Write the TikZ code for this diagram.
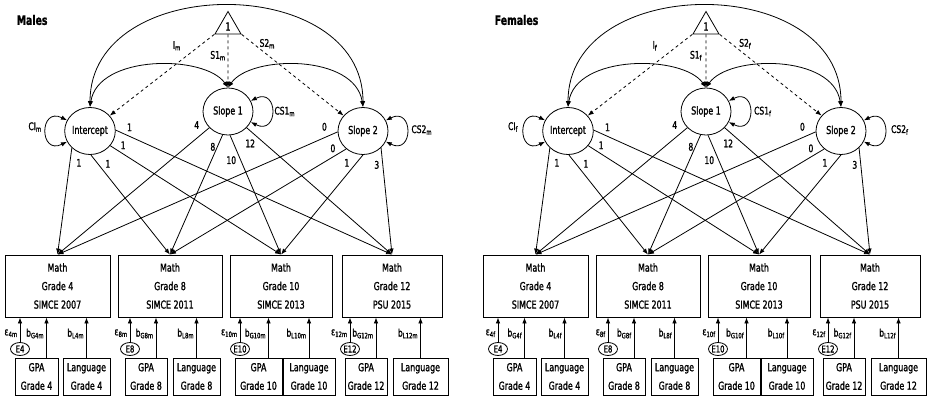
\documentclass[tikz,border=0pt]{standalone}
\usepackage{fontspec}
\setmainfont{DejaVu Sans}[FakeStretch=0.72,FakeBold=1.3]
\usetikzlibrary{shapes.geometric,arrows.meta}

\tikzset{
  latent/.style={ellipse,draw,minimum width=50pt,minimum height=47pt,inner sep=0pt},
  measure/.style={rectangle,draw,align=center,inner sep=0pt},
  errvar/.style={ellipse,draw,minimum width=19pt,minimum height=13pt,inner sep=0pt,font=\fontsize{9.5}{9.5}\selectfont},
  coef/.style={inner sep=0pt,font=\fontsize{10.5}{10.5}\selectfont},
}

\begin{document}
\begin{tikzpicture}[>={Latex[length=6pt,width=4.5pt]},x=1pt,y=-1pt,line width=0.8pt,font=\fontsize{11}{18.5}\selectfont]
\useasboundingbox (0,0) rectangle (928,398);
\foreach \g/\dx/\title in {m/0/Males,f/478/Females}
{
  \begin{scope}[xshift=\dx pt]
    \node[anchor=west,font=\bfseries\fontsize{13}{13}\selectfont] (title\g) at (13,20) {\title};
    \node[regular polygon,regular polygon sides=3,draw,minimum size=30pt,inner sep=0pt] (one\g) at (228,26.5) {1};
    \node[latent] (inter\g) at (90,131) {Intercept};
    \node[latent] (slopea\g) at (228,111.5) {Slope 1};
    \node[latent] (slopeb\g) at (363,131) {Slope 2};
    \foreach \gr/\cx/\w/\yr/\test in {4/57.5/105/2007/SIMCE,8/170/104/2011/SIMCE,10/281/102/2013/SIMCE,12/392/100/2015/PSU}
    {
      \node[measure,minimum width=\w pt,minimum height=62pt] (math\gr\g) at (\cx,286) {Math\\Grade \gr\\\test\ \yr};
    }
    % means of the growth factors
    \draw[->,dashed] (one\g.corner 2) -- (inter\g) node[coef,pos=0.3,shift={(-6,-13)}] {I\textsubscript{\g}};
    \draw[->,dashed] (one\g) -- (slopea\g) node[coef,pos=0.4,shift={(-10,0)}] {S1\textsubscript{\g}};
    \draw[->,dashed] (one\g.corner 3) -- (slopeb\g) node[coef,pos=0.3,shift={(-5,-15)}] {S2\textsubscript{\g}};
    % covariances
    \draw[<->] (inter\g.north) .. controls +(0,-135) and +(0,-135) .. (slopeb\g.north);
    \draw[<->] (inter\g.north) .. controls +(8,-53) and +(-23,-33) .. (slopea\g.north);
    \draw[<->] (slopea\g.north) .. controls +(23,-33) and +(-8,-53) .. (slopeb\g.north);
    \draw[<->] (inter\g.155) .. controls +(-28,-14) and +(-28,14) .. (inter\g.205) node[coef,pos=0.5,shift={(-11,-4)}] {CI\textsubscript{\g}};
    \draw[<->] (slopea\g.25) .. controls +(28,-14) and +(28,14) .. (slopea\g.335) node[coef,pos=0.5,shift={(13,0)}] {CS1\textsubscript{\g}};
    \draw[<->] (slopeb\g.25) .. controls +(28,-14) and +(28,14) .. (slopeb\g.335) node[coef,pos=0.5,shift={(15,-1)}] {CS2\textsubscript{\g}};
    % loadings
    \foreach \src/\a/\gr/\p/\sx/\sy/\lab in {inter/223/4/0.14/9/0/1,inter/272/8/0.09/10/0/1,inter/324/10/0.07/1/-8/1,inter/2/12/0.05/0/-9/1,
      slopea/221/4/0.05/-5/-9/4,slopea/257/8/0.1/-4.5/0/8,slopea/275/10/0.2/-9/1/10,slopea/319/12/0.1/-11/3/12,
      slopeb/182/4/0.04/-2/-10/0,slopeb/227/8/0.07/-1/-8/0,slopeb/270/10/0.1/-8/-2/1,slopeb/317/12/0.16/-6/0/3}
    {
      \draw[->] (\src\g.\a) -- (math\gr\g.north) node[coef,pos=\p,shift={(\sx,\sy)}] {\lab};
    }
    % covariates and residuals
    \foreach \gr/\ex/\gx/\gw/\lx/\lw in {4/20/36.5/43/86.5/47,8/130/146/42/196.5/47,10/240/258.5/47/309/52,12/350/366/42/420.5/55}
    {
      \node[errvar] (err\gr\g) at (\ex,349) {E\gr};
      \node[measure,minimum width=\gw pt,minimum height=37pt] (gpa\gr\g) at (\gx,376.5) {GPA\\Grade \gr};
      \node[measure,minimum width=\lw pt,minimum height=37pt] (lang\gr\g) at (\lx,376.5) {Language\\Grade \gr};
      \draw[->] (err\gr\g) -- (err\gr\g |- math\gr\g.south) node[coef,pos=0.36,left=2pt] {ε\textsubscript{\gr\g}};
      \draw[->] ([xshift=10pt]gpa\gr\g.north) -- ([xshift=10pt]gpa\gr\g.north |- math\gr\g.south) node[coef,pos=0.6,left=2pt] {b\textsubscript{G\gr\g}};
      \draw[->] (lang\gr\g.north) -- (lang\gr\g.north |- math\gr\g.south) node[coef,pos=0.6,left=2pt] {b\textsubscript{L\gr\g}};
    }
  \end{scope}
}
\end{tikzpicture}
\end{document}
